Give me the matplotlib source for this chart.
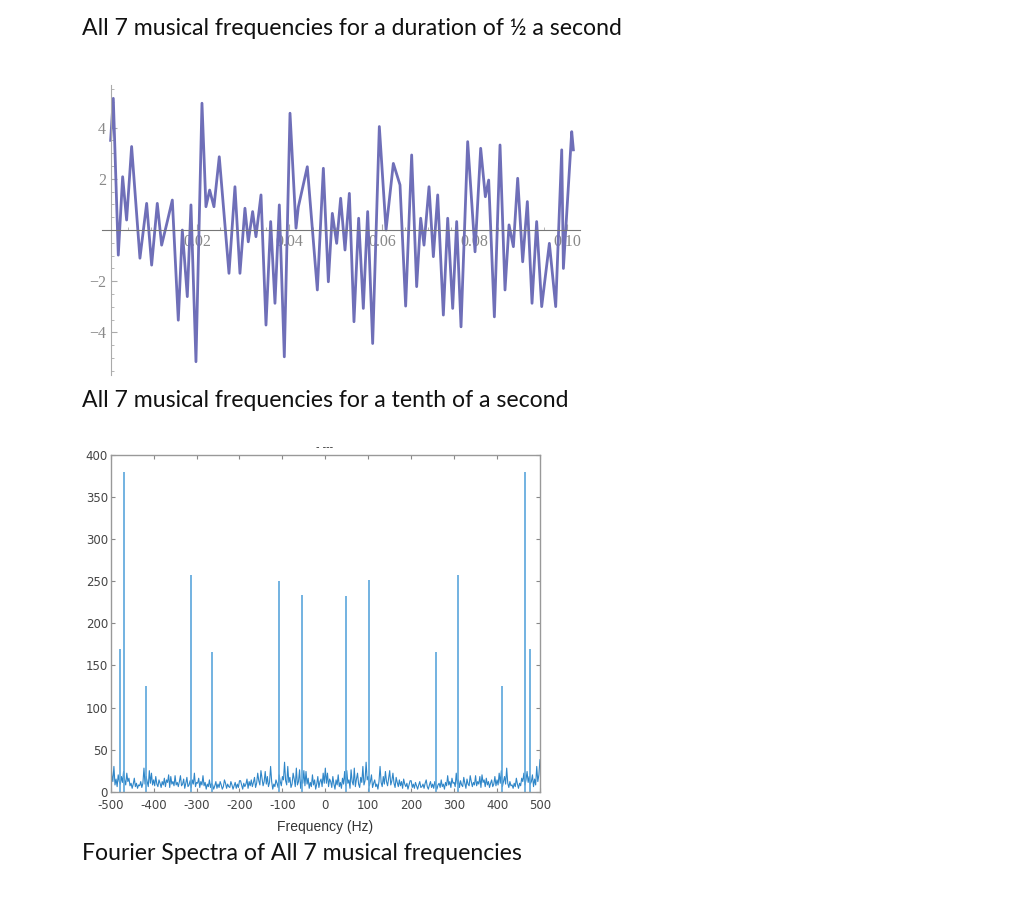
import numpy as np
import matplotlib
matplotlib.use("Agg")
import matplotlib.pyplot as plt

plt.rcParams['axes.unicode_minus'] = False

# captions of the document
caption_top = "All 7 musical frequencies for a duration of \u00bd a second"
caption_mid = "All 7 musical frequencies for a tenth of a second"
caption_bot = "Fourier Spectra of All 7 musical frequencies"

# waveform: turning points (time in s, amplitude)
wave_t = [0.00133, 0.00191, 0.00299, 0.00393, 0.00479, 0.00587, 0.00767, 0.00912, 0.01020,
          0.01142, 0.01236, 0.01358, 0.01467, 0.01596, 0.01683, 0.01791, 0.01870, 0.01978,
          0.02108, 0.02194, 0.02274, 0.02367, 0.02482, 0.02692, 0.02821, 0.02929, 0.03037,
          0.03109, 0.03203, 0.03275, 0.03384, 0.03492, 0.03593, 0.03686, 0.03780, 0.03888,
          0.04011, 0.04141, 0.04191, 0.04385, 0.04602, 0.04732, 0.04840, 0.04926, 0.05020,
          0.05106, 0.05200, 0.05294, 0.05394, 0.05495, 0.05596, 0.05690, 0.05798, 0.05942,
          0.06087, 0.06245, 0.06389, 0.06511, 0.06641, 0.06749, 0.06836, 0.06908, 0.07016,
          0.07110, 0.07204, 0.07326, 0.07420, 0.07528, 0.07614, 0.07708, 0.07852, 0.08011,
          0.08133, 0.08234, 0.08306, 0.08429, 0.08551, 0.08659, 0.08746, 0.08840, 0.08933,
          0.09041, 0.09142, 0.09243, 0.09343, 0.09452, 0.09618, 0.09755, 0.09885, 0.09921,
          0.10101, 0.10137]
wave_y = [3.5, 5.14, -0.98, 2.08, 0.39, 3.26, -1.10, 1.04, -1.37,
          1.04, -0.59, 0.33, 1.17, -3.52, 0.0, -2.60, 0.98, -5.14,
          4.95, 0.91, 1.56, 0.91, 2.86, -1.69, 1.69, -1.69, 0.85,
          -0.46, 0.72, -0.26, 1.37, -3.71, 0.33, -2.86, 0.98, -4.95,
          4.56, 0.07, 0.90, 2.47, -2.34, 2.41, -2.02, 0.65, -0.52,
          1.24, -0.78, 1.43, -3.58, 0.46, -3.06, 0.72, -4.43, 4.04,
          0.0, 2.60, 1.76, -2.97, 2.93, -2.21, 0.46, -0.59, 1.69,
          -1.04, 1.37, -3.32, 0.46, -3.06, 0.33, -3.78, 3.45, -0.85,
          3.19, 1.30, 1.95, -3.39, 3.32, -2.34, 0.20, -0.65, 2.02,
          -1.24, 1.11, -2.86, 0.33, -2.99, -0.52, -2.99, 3.13, -1.50,
          3.84, 3.13]
wave_xticks = [0.02, 0.04, 0.06, 0.08, 0.10]
wave_xlabels = ["0.02", "0.04", "0.06", "0.08", "0.10"]
wave_yticks = [-4, -2, 2, 4]
wave_ylabels = ["\u22124", "\u22122", "2", "4"]

# spectrum: main peaks (Hz, magnitude)
peak_f = [-478, -468, -418, -313, -264, -107, -55, 49, 101, 258, 308, 412, 466, 477]
peak_m = [170, 380, 125, 257, 166, 250, 234, 233, 251, 166, 257, 125, 380, 170]
# noise floor every 2.5 Hz from 0 to 500 Hz (spectrum is symmetric)
noise_pos = [28, 10, 22, 6, 15, 12, 5, 18, 9, 3, 14, 8, 20, 6, 11, 4, 16, 9, 24, 7,
             25, 10, 14, 4, 26, 12, 8, 28, 6, 15, 22, 9, 5, 17, 11, 30, 8, 13, 35, 14,
             18, 7, 12, 20, 5, 10, 14, 6, 9, 3, 12, 30, 11, 6, 18, 9, 24, 12, 7, 16,
             25, 8, 13, 22, 10, 5, 17, 11, 6, 14, 7, 12, 4, 15, 9, 6, 10, 3, 8, 13,
             13, 5, 9, 4, 11, 7, 3, 8, 12, 5, 6, 9, 4, 10, 14, 6, 3, 8, 12, 5,
             9, 4, 12, 7, 3, 8, 10, 5, 14, 6, 9, 3, 11, 7, 19, 8, 12, 5, 16, 10,
             11, 6, 22, 9, 14, 5, 13, 8, 6, 17, 10, 4, 15, 9, 7, 19, 12, 6, 11, 8,
             19, 7, 12, 9, 18, 5, 20, 11, 14, 6, 16, 8, 12, 5, 10, 14, 6, 9, 18, 7,
             14, 8, 22, 10, 25, 6, 12, 18, 9, 28, 10, 5, 12, 7, 8, 4, 10, 6, 16, 9,
             4, 10, 7, 16, 12, 22, 8, 14, 24, 11, 18, 9, 12, 20, 6, 15, 8, 30, 12, 20,
             38]

noise_f = np.linspace(-500, 500, 2 * len(noise_pos) - 1)
noise_m = np.array(noise_pos[::-1] + noise_pos[1:])

fig = plt.figure(figsize=(10.24, 8.98), dpi=100)

cap_font = dict(family=['Lato', 'DejaVu Sans'], fontsize=16.6, color='#111111', va='center')
fig.text(0.080, 0.9688, caption_top, **cap_font)
fig.text(0.080, 0.5535, caption_mid, **cap_font)
fig.text(0.080, 0.0490, caption_bot, **cap_font)

# Mathematica style waveform
ax1 = fig.add_axes([0.0993, 0.5824, 0.4671, 0.3229])
ax1.plot(wave_t, wave_y, color='#6f6fb8', lw=2.0, solid_joinstyle='round')
ax1.set_xlim(-0.0006, 0.1028)
ax1.set_ylim(-5.66, 5.66)
for s in ['top', 'right']:
    ax1.spines[s].set_visible(False)
ax1.spines['left'].set_position(('data', 0.00134))
ax1.spines['bottom'].set_position(('data', 0))
ax1.spines['left'].set_color('#aaaaaa')
ax1.spines['bottom'].set_color('#777777')
ax1.set_xticks(wave_xticks, labels=wave_xlabels)
ax1.set_yticks(wave_yticks, labels=wave_ylabels)
ax1.set_xticks(np.arange(0.005, 0.1, 0.005), minor=True)
ax1.set_yticks(np.arange(-5.5, 5.6, 0.5), minor=True)
ax1.tick_params(which='both', direction='in', color='#aaaaaa', labelcolor='#888888',
                labelsize=11.5)
ax1.tick_params(which='major', length=4)
ax1.tick_params(which='minor', length=2)
ax1.tick_params(axis='x', pad=3)
for lab in ax1.get_xticklabels() + ax1.get_yticklabels():
    lab.set_family(['Liberation Serif', 'DejaVu Serif'])
ax1.patch.set_alpha(0)

# MATLAB style spectrum
ax2 = fig.add_axes([0.1081, 0.1184, 0.4192, 0.3749])
ax2.plot(noise_f, noise_m, color='#2f86c8', lw=0.8)
ax2.vlines(peak_f, 0, peak_m, color='#5aa6dc', lw=1.2)
ax2.set_xlim(-500, 500)
ax2.set_ylim(0, 400)
ax2.set_xticks(np.arange(-500, 501, 100))
ax2.set_yticks(np.arange(0, 401, 50))
ax2.tick_params(direction='in', top=True, right=True, length=3, color='#888888',
                labelcolor='#444444', labelsize=8.5, pad=2)
ax2.tick_params(axis='x', pad=5)
for s in ax2.spines.values():
    s.set_color('#999999')
    s.set_linewidth(1.0)
fig.text(0.3174, 0.079, "Frequency (Hz)", ha='center', va='center', fontsize=10,
         color='#333333', family=['Liberation Sans', 'DejaVu Sans'])
fig.text(0.3174, 0.502, "- ---", ha='center', va='center', fontsize=7, color='#333333')

fig.savefig("out.png", dpi=100)
